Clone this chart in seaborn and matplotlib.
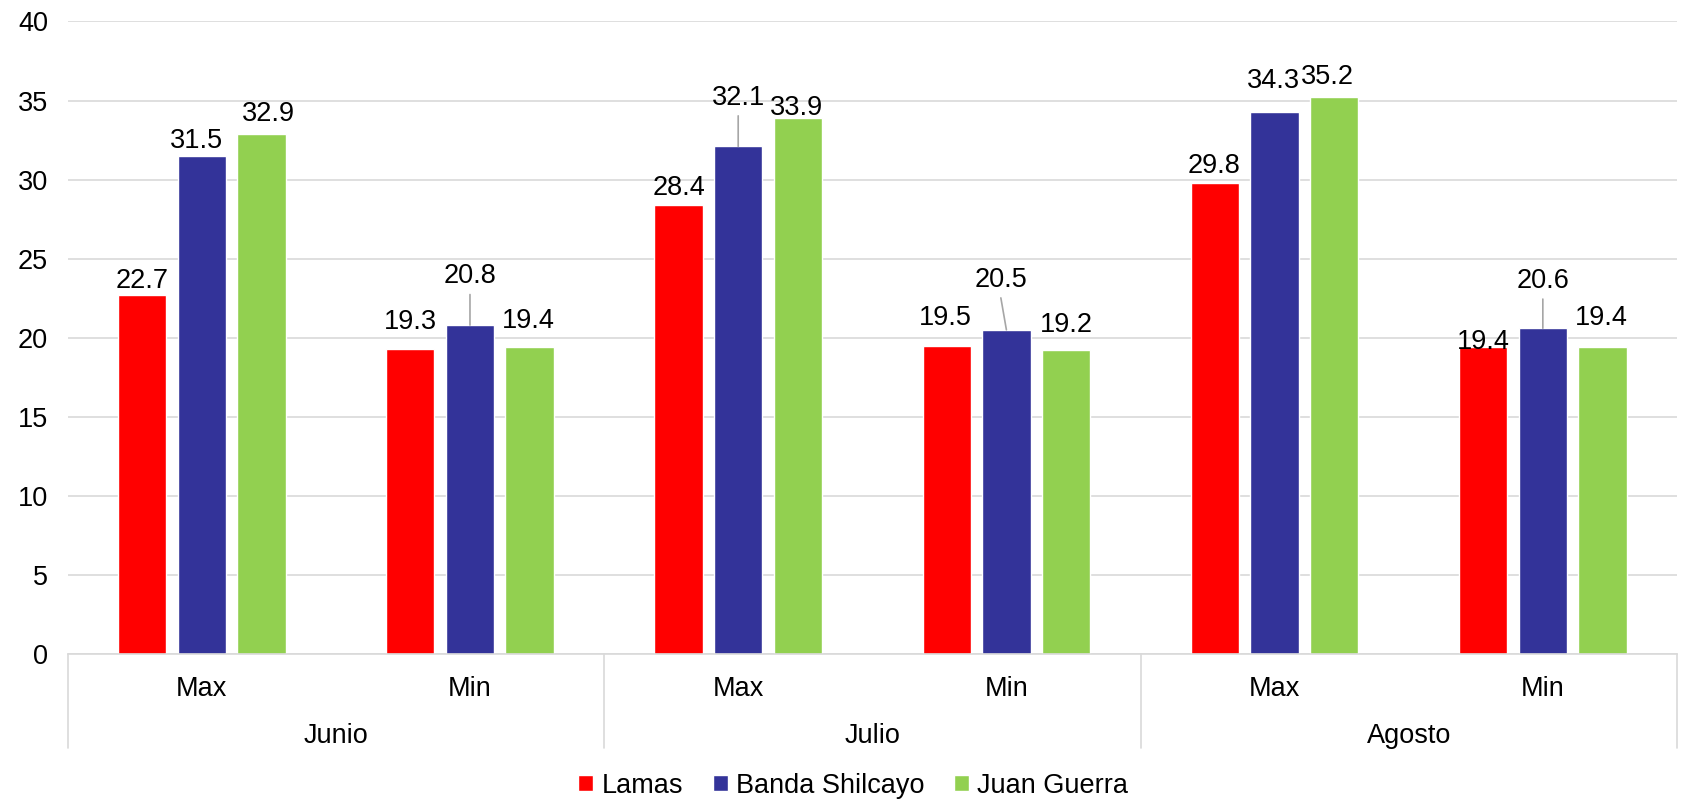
import matplotlib
matplotlib.use("Agg")
import matplotlib.pyplot as plt
import seaborn as sns
import pandas as pd

months = ["Junio", "Julio", "Agosto"]
stats = ["Max", "Min"]
series = ["Lamas", "Banda Shilcayo", "Juan Guerra"]
lamas = [22.7, 19.3, 28.4, 19.5, 29.8, 19.4]
banda = [31.5, 20.8, 32.1, 20.5, 34.3, 20.6]
juan = [32.9, 19.4, 33.9, 19.2, 35.2, 19.4]
colors = ["#FF0000", "#333399", "#92D050"]

# label offsets (dx, dy) in points, per series, per category (style only)
label_offsets = {
    "Lamas": [(0, 10), (0, 19), (0, 12), (-1, 20), (-1, 12), (0, 4)],
    "Banda Shilcayo": [(-4, 11), (0, 35), (0, 35), (-4, 36), (-1, 22), (0, 34)],
    "Juan Guerra": [(5, 14), (-1, 19), (-1, 7), (0, 18), (-5, 15), (-1, 21)],
}
leader = {"Banda Shilcayo": [False, True, True, True, False, True]}
FS = 19.5

sns.set_theme(style="white")
plt.rcParams["font.family"] = ["Liberation Sans", "DejaVu Sans"]
plt.rcParams["text.color"] = "black"

cats = [f"{m}|{s}" for m in months for s in stats]
rows = []
for name, vals in zip(series, [lamas, banda, juan]):
    for c, v in zip(cats, vals):
        rows.append({"cat": c, "serie": name, "valor": v})
df = pd.DataFrame(rows)

fig = plt.figure(figsize=(16.83, 8.01), dpi=100)
ax = fig.add_axes([0.0402, 0.1835, 0.9562, 0.7897])

sns.barplot(data=df, x="cat", y="valor", hue="serie", order=cats, hue_order=series,
            palette=colors, width=0.667, gap=0.19, saturation=1, errorbar=None,
            ax=ax, legend=True)

ax.set_ylim(0, 40)
ax.set_xlim(-0.5, len(cats) - 0.5)
ax.set_yticks(range(0, 41, 5))
ax.yaxis.grid(True, color="#D9D9D9", linewidth=1.2)
ax.set_axisbelow(True)
for s in ["top", "right", "left"]:
    ax.spines[s].set_visible(False)
ax.spines["bottom"].set_color("#D9D9D9")
ax.spines["bottom"].set_linewidth(1.2)
ax.tick_params(axis="y", length=0, labelsize=FS, pad=14, colors="black")
ax.tick_params(axis="x", length=0, labelsize=FS, pad=16, colors="black")
ax.set_xticks(range(len(cats)))
ax.set_xticklabels([c.split("|")[1] for c in cats])
ax.set_xlabel("")
ax.set_ylabel("")

# multi-level category separators and month labels
for i in range(len(months) + 1):
    x = i * len(stats) - 0.5
    ax.plot([x, x], [0, -0.149], transform=ax.get_xaxis_transform(), color="#D9D9D9",
            linewidth=1.2, clip_on=False)
for i, m in enumerate(months):
    xc = i * len(stats) + (len(stats) - 1) / 2
    ax.text(xc, -0.13, m, transform=ax.get_xaxis_transform(), ha="center", va="center",
            fontsize=FS, color="black")

# data labels
for name, cont in zip(series, ax.containers):
    offs = label_offsets[name]
    lds = leader.get(name, [False] * len(cats))
    for j, bar in enumerate(cont):
        h = bar.get_height()
        xc = bar.get_x() + bar.get_width() / 2
        dx, dy = offs[j]
        ax.annotate(f"{h:.1f}", xy=(xc, h), xytext=(dx, dy), textcoords="offset points",
                    ha="center", va="center", fontsize=FS, color="black")
        if lds[j]:
            ax.annotate("", xy=(xc, h), xytext=(dx, dy - 13), textcoords="offset points",
                        arrowprops=dict(arrowstyle="-", color="#A6A6A6", lw=1.2,
                                        shrinkA=0, shrinkB=0))

leg = ax.legend(loc="center", bbox_to_anchor=(0.507, 0.019), bbox_transform=fig.transFigure,
                ncol=3, frameon=False, fontsize=FS, handlelength=0.55, handleheight=0.55,
                handletextpad=0.3, columnspacing=1.1)
for t in leg.get_texts():
    t.set_color("black")

fig.savefig("out.png", dpi=100)
